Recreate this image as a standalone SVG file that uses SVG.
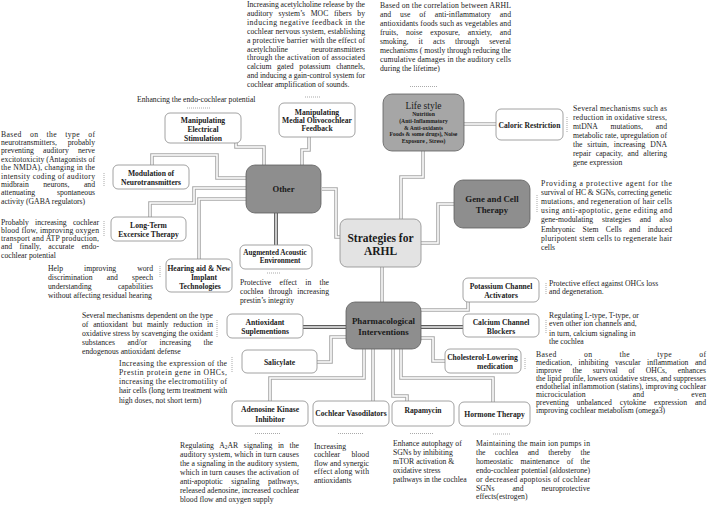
<svg xmlns="http://www.w3.org/2000/svg" xmlns:xlink="http://www.w3.org/1999/xlink" width="707" height="506" viewBox="0 0 707 506">
<style>
.d{font-family:"Liberation Serif","Times New Roman",serif;font-size:7.7px;fill:#1a1a1a}
.l{font-family:"Liberation Serif","Times New Roman",serif;font-size:7.6px;font-weight:bold;fill:#1a1a1a;text-anchor:middle}
.L{font-family:"Liberation Serif","Times New Roman",serif;font-size:8.8px;font-weight:bold;fill:#1a1a1a;text-anchor:middle}
.wb{fill:#fff;stroke:#8a8a8a;stroke-width:0.8}
.db{fill:#8e8e8e;stroke:#5e5e5e;stroke-width:0.8}
.cO{fill:none;stroke:#a8a8a8;stroke-width:3.6}
.kO{fill:none;stroke:#262626;stroke-width:3.4}
.cI{fill:none;stroke:#fff;stroke-width:1.5}
.dt{fill:none;stroke:#777;stroke-width:0.8;stroke-dasharray:0.8 1.2}
</style>
<defs>
<g id="gp">
<path d="M322,189 H336 V237 H340"/>
<path d="M423,151 V177 H401 V219"/>
<path d="M421,243 H438 V204 H454"/>
<path d="M464,124 H497"/>
<path d="M382,267 V302"/>
<path d="M236,143 V147 H264 V165"/>
<path d="M309,137 V150 H302 V165"/>
<path d="M152,165 V155 H217 V178 H246"/>
<path d="M246,188 H194 V203 H150 V217"/>
<path d="M246,199 H199 V259"/>
<path d="M421,310 H468 V302"/>
<path d="M421,338 H433 V361 H445"/>
<path d="M401,349 V378 H493 V402"/>
<path d="M393,349 V396 H407 V401"/>
<path d="M373,349 V401"/>
<path d="M364,349 V378 H270 V401"/>
<path d="M346,337 H331 V362 H317"/>
</g>
<g id="kp">
<path d="M276,213 V245"/>
<path d="M303,327 H346"/>
<path d="M421,327 H463"/>
</g>
</defs>
<g id="connectors">
<use xlink:href="#gp" class="cO"/>
<use xlink:href="#gp" class="cI"/>
<use xlink:href="#kp" class="kO"/>
<use xlink:href="#kp" class="cI"/>
</g>
<g id="dots">
<path class="dt" d="M305,97 H321 M410,86.5 H438 M187,108 H210 M267,273 H281 M255,433.5 H280 M338,433.5 H363 M410,433.5 H433 M493,434 H511"/>
<path class="dt" d="M104,173 V186 M104,221 V236 M160,266 V278 M217,320 V337 M232,357 V373 M567,117 V132 M537,195 V212 M546,283 V294 M546,320 V333 M525,358 V370"/>
</g>
<g id="n-strategies"><rect x="340" y="219" width="81" height="48" rx="7" fill="#e3e3e3" stroke="#8a8a8a" stroke-width="0.8"/>
<text class="L" style="font-size:11.5px" x="380.5" y="241.5">Strategies for</text><text class="L" style="font-size:11.5px" x="380.5" y="254.5">ARHL</text></g>
<g id="n-other"><rect class="db" x="246" y="165" width="75" height="48" rx="9"/><text class="L" style="font-size:8.6px" x="283.5" y="192">Other</text></g>
<g id="n-lifestyle"><rect class="db" style="fill:#a6a6a6" x="383" y="94" width="81" height="57" rx="9"/>
<text x="423.5" y="109" style="font-family:'Liberation Serif',serif;font-size:9.5px;fill:#1a1a1a;text-anchor:middle">Life  style</text>
<text class="l" style="font-size:5.7px" x="423.5" y="116">Nutrition</text><text class="l" style="font-size:5.7px" x="423.5" y="123.3">(Anti-Inflammatory</text><text class="l" style="font-size:5.7px" x="423.5" y="129.7">&amp; Anti-oxidants</text><text class="l" style="font-size:5.7px" x="423.5" y="136.3">Foods &amp; some drugs), Noise</text><text class="l" style="font-size:5.7px" x="423.5" y="143">Exposure , Stress)</text></g>
<g id="n-gene"><rect class="db" x="454" y="180" width="76" height="48" rx="9"/><text class="L" x="492" y="202.3">Gene and Cell</text><text class="L" x="492" y="213.3">Therapy</text></g>
<g id="n-pharm"><rect class="db" x="346" y="302" width="75" height="47" rx="9"/><text class="L" x="383.5" y="324">Pharmacological</text><text class="L" x="383.5" y="335">Interventions</text></g>
<g id="n-caloric"><rect class="wb" x="496" y="109" width="67" height="31" rx="5"/><text class="l" x="529.5" y="127.7">Caloric Restriction</text></g>
<g id="n-electrical"><rect class="wb" x="165" y="113" width="76" height="30" rx="5"/><text class="l" x="203" y="122.7">Manipulating</text><text class="l" x="203" y="131.7">Electrical</text><text class="l" x="203" y="140.7">Stimulation</text></g>
<g id="n-moc"><rect class="wb" x="279" y="103" width="76" height="34" rx="5"/><text class="l" x="317" y="114.7">Manipulating</text><text class="l" x="317" y="122.7">Medial Olivocochlear</text><text class="l" x="317" y="130.7">Feedback</text></g>
<g id="n-modulation"><rect class="wb" x="113" y="165" width="76" height="24" rx="5"/><text class="l" x="151" y="175.7">Modulation of</text><text class="l" x="151" y="184.7">Neurotransmitters</text></g>
<g id="n-longterm"><rect class="wb" x="111" y="217" width="75" height="24" rx="5"/><text class="l" x="148.5" y="227.7">Long-Term</text><text class="l" x="148.5" y="236.7">Excersice Therapy</text></g>
<g id="n-hearing"><rect class="wb" x="166" y="259" width="66" height="33" rx="5"/><text class="l" x="199" y="270.7">Hearing aid &amp; New</text><text class="l" x="204" y="279.7">Implant</text><text class="l" x="200" y="288.7">Technologies</text></g>
<g id="n-augmented"><rect class="wb" x="240" y="245" width="72" height="24" rx="5"/><text class="l" style="font-size:7.2px" x="275" y="254.8">Augmented Acoustic</text><text class="l" style="font-size:7.2px" x="280" y="263.3">Environment</text></g>
<g id="n-potassium"><rect class="wb" x="463" y="278" width="76" height="24" rx="5"/><text class="l" x="501" y="288.5">Potassium Channel</text><text class="l" x="501" y="298">Activators</text></g>
<g id="n-calcium"><rect class="wb" x="463" y="314" width="76" height="23" rx="5"/><text class="l" x="501" y="324.6">Calcium Channel</text><text class="l" x="501" y="334">Blockers</text></g>
<g id="n-cholesterol"><rect class="wb" x="445" y="349" width="76" height="24" rx="5"/><text class="l" x="482.5" y="360.3">Cholesterol-Lowering</text><text class="l" x="495" y="369">medication</text></g>
<g id="n-hormone"><rect class="wb" x="459" y="402" width="71" height="24" rx="5"/><text class="l" x="494.5" y="416.7">Hormone Therapy</text></g>
<g id="n-rapamycin"><rect class="wb" x="392" y="401" width="62" height="25" rx="5"/><text class="l" x="423" y="412.7">Rapamycin</text></g>
<g id="n-vasodilators"><rect class="wb" x="313" y="401" width="76" height="25" rx="5"/><text class="l" x="351" y="415.7">Cochlear Vasodilators</text></g>
<g id="n-adenosine"><rect class="wb" x="232" y="401" width="76" height="25" rx="5"/><text class="l" x="270" y="411.7">Adenosine Kinase</text><text class="l" x="270" y="421.7">Inhibitor</text></g>
<g id="n-salicylate"><rect class="wb" x="242" y="350" width="75" height="23" rx="5"/><text class="l" x="279.5" y="364.5">Salicylate</text></g>
<g id="n-antioxidant"><rect class="wb" x="227" y="314" width="76" height="24" rx="5"/><text class="l" x="265" y="324.7">Antioxidant</text><text class="l" x="265" y="333.7">Suplementions</text></g>
<g id="texts">
<text class="d" x="247" y="7" textLength="118">Increasing acetylcholine release by the</text>
<text class="d" x="247" y="15.9" textLength="118" style="word-spacing:3.7px">auditory system’s MOC fibers by</text>
<text class="d" x="247" y="24.8" textLength="118">inducing negative feedback in the</text>
<text class="d" x="247" y="33.7" textLength="118">cochlear nervous system, establishing</text>
<text class="d" x="247" y="42.6" textLength="118">a protective barrier with the effect of</text>
<text class="d" x="247" y="51.5">acetylcholine</text><text class="d" x="365" y="51.5" text-anchor="end">neurotransmitters</text>
<text class="d" x="247" y="60.4" textLength="118">through the activation of associated</text>
<text class="d" x="247" y="69.3" textLength="118" style="word-spacing:3.7px">calcium gated potassium channels,</text>
<text class="d" x="247" y="78.2" textLength="118">and inducing a gain-control system for</text>
<text class="d" x="247" y="87.1">cochlear amplification of sounds.</text>

<text class="d" x="380" y="8" textLength="131">Based on the correlation between ARHL</text>
<text class="d" x="380" y="17" textLength="131" style="word-spacing:7px">and use of anti-inflammatory and</text>
<text class="d" x="380" y="25.9" textLength="131">antioxidants foods such as vegetables and</text>
<text class="d" x="380" y="34.9" textLength="131" style="word-spacing:5.9px">fruits, noise exposure, anxiety, and</text>
<text class="d" x="380" y="43.8" textLength="131" style="word-spacing:8.2px">smoking, it acts through several</text>
<text class="d" x="380" y="52.8" textLength="131">mechanisms ( mostly through reducing the</text>
<text class="d" x="380" y="61.7" textLength="131">cumulative damages in the auditory cells</text>
<text class="d" x="380" y="70.7">during the lifetime)</text>

<text class="d" x="573" y="110.5" textLength="94">Several mechanisms such as</text>
<text class="d" x="573" y="119.6" textLength="94">reduction in oxidative stress,</text>
<text class="d" x="573" y="128.7" textLength="94" style="word-spacing:11px">mtDNA mutations, and</text>
<text class="d" x="573" y="137.8" textLength="94">metabolic rate, upregulation of</text>
<text class="d" x="573" y="146.9" textLength="94" style="word-spacing:3px">the sirtuin, increasing DNA</text>
<text class="d" x="573" y="156" textLength="94" style="word-spacing:2.7px">repair capacity, and altering</text>
<text class="d" x="573" y="165.1">gene expression</text>

<text class="d" x="541" y="186" textLength="131">Providing a protective agent for the</text>
<text class="d" x="541" y="195.1" textLength="131">survival of HC &amp; SGNs, correcting genetic</text>
<text class="d" x="541" y="204.2" textLength="131">mutations, and regeneration of hair cells</text>
<text class="d" x="541" y="213.3" textLength="131">using anti-apoptotic, gene editing and</text>
<text class="d" x="541" y="222.4" textLength="131" style="word-spacing:6.8px">gene-modulating strategies and also</text>
<text class="d" x="541" y="231.5" textLength="131" style="word-spacing:5.5px">Embryonic Stem Cells  and induced</text>
<text class="d" x="541" y="240.6" textLength="131">pluripotent stem cells to regenerate hair</text>
<text class="d" x="541" y="249.7">cells</text>

<text class="d" x="549" y="285.8">Protective effect against OHCs loss</text>
<text class="d" x="549" y="294.2">and degeneration.</text>

<text class="d" x="549" y="317.5">Regulating L-type, T-type, or</text>
<text class="d" x="549" y="326.3">even other ion channels and,</text>
<text class="d" x="549" y="335.5">in turn, calcium signaling in</text>
<text class="d" x="549" y="344">the cochlea</text>

<text class="d" x="536" y="357" textLength="170" style="word-spacing:24.8px">Based on the type of</text>
<text class="d" x="536" y="365" textLength="170" style="word-spacing:4.5px">medication, inhibiting vascular inflammation and</text>
<text class="d" x="536" y="372.9" textLength="170" style="word-spacing:9px">improve the survival of OHCs, enhances</text>
<text class="d" x="536" y="380.9" textLength="170">the lipid profile, lowers oxidative stress, and suppresses</text>
<text class="d" x="536" y="388.8" textLength="170">endothelial inflammotion (statins), improving cochlear</text>
<text class="d" x="536" y="396.8" textLength="170" style="word-spacing:45px">microciculation and even</text>
<text class="d" x="536" y="404.7" textLength="170" style="word-spacing:6px">preventing unbalanced cytokine expression and</text>
<text class="d" x="536" y="412.7">improving cochlear metabolism (omega3)</text>

<text class="d" x="476" y="446" textLength="114">Maintaining the main ion pumps in</text>
<text class="d" x="476" y="454.9" textLength="114" style="word-spacing:7.5px">the cochlea and thereby the</text>
<text class="d" x="476" y="463.8" textLength="114" style="word-spacing:5.4px">homeostatic maintenance of the</text>
<text class="d" x="476" y="472.7" textLength="114">endo-cochlear potential (aldosterone)</text>
<text class="d" x="476" y="481.6" textLength="114">or decreased apoptosis of cochlear</text>
<text class="d" x="476" y="490.5" textLength="114" style="word-spacing:16px">SGNs and neuroprotective</text>
<text class="d" x="476" y="499.4">effects(estrogen)</text>

<text class="d" x="393" y="446">Enhance autophagy of</text>
<text class="d" x="393" y="455">SGNs by inhibiting</text>
<text class="d" x="393" y="464">mTOR activation &amp;</text>
<text class="d" x="393" y="473">oxidative stress</text>
<text class="d" x="393" y="482">pathways in the cochlea</text>

<text class="d" x="314" y="448.5">Increasing</text>
<text class="d" x="314" y="457" textLength="55" style="word-spacing:9.5px">cochlear blood</text>
<text class="d" x="314" y="465.5" textLength="55">flow and synergic</text>
<text class="d" x="314" y="474" textLength="55">effect along with</text>
<text class="d" x="314" y="482.5">antioxidants</text>

<text class="d" x="180" y="447.5" textLength="119" style="word-spacing:3.7px">Regulating A<tspan font-size="5.4px" dy="1.5">2</tspan><tspan dy="-1.5">AR signaling in the</tspan></text>
<text class="d" x="180" y="456.5" textLength="119">auditory system, which in turn causes</text>
<text class="d" x="180" y="465.6" textLength="119">the a signaling in the auditory system,</text>
<text class="d" x="180" y="474.6" textLength="119">which in turn causes the activation of</text>
<text class="d" x="180" y="483.7" textLength="119" style="word-spacing:6.6px">anti-apoptotic signaling pathways,</text>
<text class="d" x="180" y="492.7" textLength="119">released adenosine, increased cochlear</text>
<text class="d" x="180" y="501.8">blood flow and oxygen supply</text>

<text class="d" x="119" y="365.5" textLength="108">Increasing the expression of the</text>
<text class="d" x="119" y="374.8" textLength="108">Prestin protein gene in OHCs,</text>
<text class="d" x="119" y="384.1" textLength="108">increasing the electromotility of</text>
<text class="d" x="119" y="393.4" textLength="108">hair cells (long term treatment with</text>
<text class="d" x="119" y="402.7">high doses, not short term)</text>

<text class="d" x="82" y="317.5" textLength="131">Several mechanisms dependent on the type</text>
<text class="d" x="82" y="326.5" textLength="131" style="word-spacing:2.8px">of antioxidant but mainly reduction in</text>
<text class="d" x="82" y="335.5" textLength="131">oxidative stress by scavenging the oxidant</text>
<text class="d" x="82" y="344.5" textLength="131" style="word-spacing:10.5px">substances and/or increasing the</text>
<text class="d" x="82" y="353.5">endogenous antioxidant defense</text>

<text class="d" x="48" y="270.5" textLength="105" style="word-spacing:19px">Help improving word</text>
<text class="d" x="48" y="279.5" textLength="105" style="word-spacing:12.3px">discrimination and speech</text>
<text class="d" x="48" y="288.5" textLength="105" style="word-spacing:24.4px">understanding capabilities</text>
<text class="d" x="48" y="297.5">without  affecting residual hearing</text>

<text class="d" x="1" y="224.5" textLength="98" style="word-spacing:4.3px">Probably increasing cochlear</text>
<text class="d" x="1" y="232.8" textLength="98">blood flow, improving oxygen</text>
<text class="d" x="1" y="241.1" textLength="98">transport and ATP production,</text>
<text class="d" x="1" y="249.4" textLength="98" style="word-spacing:5.3px">and finally, accurate endo-</text>
<text class="d" x="1" y="257.7">cochlear potential</text>

<text class="d" x="1" y="136.5" textLength="94" style="word-spacing:5.8px">Based on the type of</text>
<text class="d" x="1" y="144.9" textLength="94" style="word-spacing:8.9px">neurotransmitters, probably</text>
<text class="d" x="1" y="153.3" textLength="94" style="word-spacing:7.2px">preventing auditory nerve</text>
<text class="d" x="1" y="161.7" textLength="94">excitotoxicity (Antagonists of</text>
<text class="d" x="1" y="170.1" textLength="94">the NMDA), changing in the</text>
<text class="d" x="1" y="178.5" textLength="94">intensity coding of auditory</text>
<text class="d" x="1" y="186.9" textLength="94" style="word-spacing:12.5px">midbrain neurons, and</text>
<text class="d" x="1" y="195.3" textLength="94" style="word-spacing:19.8px">attenuating spontaneous</text>
<text class="d" x="1" y="203.7">activity (GABA regulators)</text>

<text class="d" x="240" y="284.5" textLength="89" style="word-spacing:6.4px">Protective effect in the</text>
<text class="d" x="240" y="293.5" textLength="89" style="word-spacing:3px">cochlea through increasing</text>
<text class="d" x="240" y="302.5">prestin’s integrity</text>

<text class="d" x="137" y="101.5">Enhancing the endo-cochlear potential</text>
</g>
</svg>
